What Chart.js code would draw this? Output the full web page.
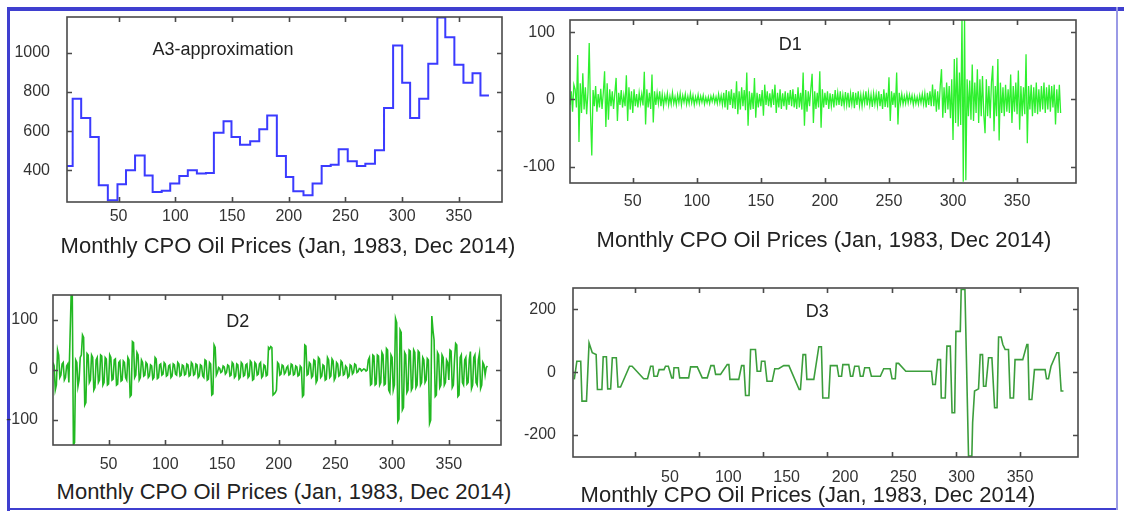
<!DOCTYPE html>
<html>
<head>
<meta charset="utf-8">
<script src="https://cdn.jsdelivr.net/npm/chart.js@4.4.0/dist/chart.umd.min.js"></script>
<style>
  body { margin: 0; background: #fff; width: 1124px; height: 513px; overflow: hidden; position: relative;
         font-family: "Liberation Sans", Arial, sans-serif; }
  .line { position: absolute; background: #3f3fcf; }
  canvas { position: absolute; }
  .xlabel { position: absolute; font-size: 22px; color: #222; white-space: nowrap; transform: translate(-50%, -50%); }
</style>
</head>
<body>
<div class="line" style="left:7px;top:7px;width:1117px;height:4px"></div>
<div class="line" style="left:7px;top:7px;width:3px;height:504px"></div>
<div class="line" style="left:7px;top:508px;width:1111px;height:2px"></div>
<div class="line" style="left:1116px;top:7px;width:2px;height:503px;background:#9a9ae6"></div>

<canvas id="a3"></canvas>
<canvas id="d1"></canvas>
<canvas id="d2"></canvas>
<canvas id="d3"></canvas>

<div class="xlabel" style="left:288px;top:246px">Monthly CPO Oil Prices (Jan, 1983, Dec 2014)</div>
<div class="xlabel" style="left:824px;top:240px">Monthly CPO Oil Prices (Jan, 1983, Dec 2014)</div>
<div class="xlabel" style="left:284px;top:492px">Monthly CPO Oil Prices (Jan, 1983, Dec 2014)</div>
<div class="xlabel" style="left:808px;top:495px">Monthly CPO Oil Prices (Jan, 1983, Dec 2014)</div>

<script>
// tick labels
const xTicks = [50, 100, 150, 200, 250, 300, 350];
const a3YTicks = [400, 600, 800, 1000];
const d12YTicks = [-100, 0, 100];
const d3YTicks = [-200, 0, 200];

// A3: step levels (month where each level starts, level value)
const a3Months = [4.5, 9.5, 17, 25, 32.5, 40.5, 49, 56.5, 64.5, 73, 80, 88, 95.5, 103.5, 111, 119,
  127, 134, 142.5, 149.5, 157, 166, 174, 181, 189.5, 197.5, 204, 213, 221, 229, 237, 244,
  252, 260, 267.5, 276, 284, 292, 300, 307, 315, 323, 331, 338, 346, 354, 362, 369, 376.5];
const a3Values = [422, 765, 667, 570, 323, 247, 329, 400, 476, 374, 289, 296, 332, 371, 400, 383,
  386, 592, 650, 570, 531, 548, 609, 680, 473, 366, 293, 272, 332, 422, 428, 507,
  446, 422, 434, 502, 718, 1037, 847, 667, 765, 944, 1180, 1080, 939, 847, 896, 782, 782];

// D1: monthly detail, Jan 1983 .. Dec 2014
const d1Values = [
  -8, 12, -18, 22, 15, -12, 66, -63, 24, -20, 39, -15,
  18, -22, 10, 84, -20, -83, 14, -10, 20, -18, 8, -12,
  16, -14, 10, 42, -41, 24, -30, 15, -10, 12, -14, 9,
  32, -32, 10, -8, 14, -12, 6, -10, 36, -32, 18, -15,
  12, -20, 15, -10, 8, -12, 10, -6, 8, -9, 41, -37,
  15, -12, 10, -14, 37, -34, 12, -8, 10, -6, 12, -10,
  8, -10, 6, -5, 9, -8, 5, -7, 10, -6, 4, -8,
  7, -5, 9, -8, 6, -4, 8, -7, 5, -6, 9, -5,
  6, -8, 4, -5, 7, -6, 5, -4, 6, -7, 3, -5,
  4, -6, 5, -3, 6, -5, 4, -6, 8, -5, 6, -8,
  10, -12, 14, -15, 12, -8, 15, -13, 10, -14, 27, -22,
  12, -15, 18, -10, 14, -16, 40, -39, 12, -15, 10, -14,
  32, -27, 10, -12, 8, -10, 14, -24, 22, -8, 12, -10,
  9, -12, 15, -8, 22, -20, 10, -12, 15, -14, 9, -10,
  12, -15, 10, -8, 14, -10, 15, -12, 8, -14, 18, -12,
  10, -15, 40, -39, 14, -18, 12, -10, 16, 38, -35, 12,
  -14, 10, -12, 42, -42, 15, -12, 10, -8, 12, -14, 9,
  -10, 8, -12, 14, -9, 10, -8, 12, -10, 7, -9, 11,
  -8, 10, -12, 9, -7, 11, -13, 10, -8, 12, -9, 7,
  -10, 8, -6, 12, -9, 10, -8, 7, -11, 9, -7, 8,
  -9, 12, -10, 8, -14, 15, -11, 10, -12, 33, -32, 12,
  -8, 10, -12, 40, -37, 10, -6, 8, -7, 5, -6, 8,
  -5, 7, -4, 6, -8, 5, -6, 4, -7, 6, -5, 8,
  -7, 9, -12, 10, -8, 12, -10, 22, -10, 15, -18, 12,
  -15, 20, 45, -27, 18, -20, 25, -15, 20, -28, 30, -60,
  60, -35, 62, -40, 40, -38, 122, -122, 120, -120, 30, -25,
  28, -30, 52, -32, 25, -20, 45, -35, 30, -25, 35, -22,
  -50, 30, -25, 20, -28, 25, 50, -47, 20, -25, 60, -61,
  25, -20, 18, -25, 22, -18, 15, -20, 37, -35, 20, -18,
  25, -22, 43, -45, 20, -25, 18, -22, 67, -65, 20, -15,
  22, -25, 18, -20, 25, -22, 15, -18, 20, -15, 25, -20,
  18, -15, 22, -18, 20, -12, 22, -37, 15, -20, 22, -20
];

// D2: monthly detail
const d2Values = [
  15, 8, -40, -30, 40, 30, -15, -10, 12, 15, -20, -15,
  8, 12, -25, 63, 150, 150, -150, -145, 20, 15, -33, -20,
  25, 30, 70, 65, -70, -65, 33, 30, -25, -20, 30, 25,
  -40, -35, 20, 25, -25, -20, 30, 28, -30, -25, 25, 22,
  -30, -28, 30, 25, -20, -18, 20, 22, -30, -28, 15, 18,
  -22, -20, 18, 15, -15, -20, 25, 20, -53, -50, 57, 55,
  -15, -10, 35, 30, -20, -15, 20, 15, -12, -10, 15, 12,
  -15, -12, 10, 8, -18, -15, 25, 22, -17, -15, 10, 12,
  -10, -8, 15, 12, -12, -10, 8, 10, -15, -12, 12, 10,
  -8, -10, 15, 12, -12, -10, 10, 8, -10, -8, 12, 10,
  -12, -10, 15, 12, -10, -8, 12, 10, -15, -12, 10, 8,
  -12, -15, 20, 18, -20, -18, 15, 12, -50, -48, 50, 45,
  -10, -5, 5, 3, -5, -3, 8, 6, -8, -5, 10, 8,
  -12, -10, 15, 12, -15, -12, 12, 10, -18, -15, 15, 12,
  -12, -10, 10, 12, -15, -12, 18, 15, -20, -18, 15, 12,
  -10, -8, 12, 15, -15, -12, 10, 8, -12, -10, 45, 42,
  47, 45, -50, -48, -45, -40, 15, 12, -10, -8, 10, 8,
  -8, -5, 5, 8, -10, -8, 12, 10, -10, -8, 8, 6,
  -12, -10, 8, 5, -53, -50, 50, 48, -10, -8, 15, 12,
  -15, -12, 20, 18, -25, -20, 25, 22, -15, -12, 10, 8,
  -20, -18, 25, 20, -15, -12, 22, 18, -20, -15, 15, 12,
  -12, -10, 18, 15, -10, -8, 8, 5, -15, -12, 10, 8,
  -8, -5, 12, 10, -5, -3, 3, 2, -2, 0, 2, 1,
  -2, 0, 20, 25, -30, -28, 30, 28, -30, -28, 30, 28,
  -30, -25, 35, 30, -30, -28, 43, 40, -40, -45, 30, 25,
  -40, -30, 103, 95, -103, -98, 80, 75, -80, -75, 35, 30,
  -45, -40, 40, 38, -40, -35, 40, 35, -35, -30, 38, 35,
  -30, -25, 25, 20, -25, -20, 23, 20, -107, -100, 108, 80,
  60, -53, -50, 35, 30, -35, -30, 30, 25, -30, -25, 20,
  15, -20, 40, 38, -35, -30, 20, 53, 50, -53, -50, 25,
  30, -25, -30, 20, 25, -28, -25, 20, 37, -37, -30, 25,
  30, -25, -30, 20, 33, -37, -30, 15, 10, -10, 5, 8
];

// D3: read as turning points (month, value)
const d3Months = [
  3, 5, 8, 9, 12.5, 14.5, 17, 20, 21, 24.5,
  25.5, 28, 29, 31.3, 32.6, 35.7, 37, 39, 46, 48,
  57, 60, 62.4, 64.2, 65, 67.6, 69, 72.8, 74, 76.2,
  78.8, 80, 80.6, 84, 85, 92, 93.5, 98.7, 102.6, 106.5,
  109.3, 111.7, 113, 116.8, 122, 123.3, 124.1, 131, 133.2, 135,
  136.3, 139, 140.2, 144, 145.3, 148, 148.7, 151.3, 153, 157,
  159, 162, 166, 170, 178, 179, 181, 183, 184, 189.4,
  193.3, 195.3, 196.4, 201, 202.3, 207.5, 208.8, 211, 212, 216.6,
  218, 219.7, 221.2, 224.4, 225.6, 227.7, 229, 232.6, 234.2, 241.2,
  243.8, 248.8, 250.3, 252.8, 253.6, 255.4, 261, 281, 282, 284,
  285.8, 288, 288.6, 291.7, 293, 295.6, 297, 299, 300, 303.4,
  304.1, 307, 309.8, 312.4, 313, 314.5, 317.6, 318.9, 320.7, 321.5,
  323.3, 325.4, 328, 330.1, 332, 333.2, 335.2, 336.5, 338.3, 340.9,
  342.2, 344.8, 346, 352, 355.2, 356, 357, 359.1, 361.1, 369.4,
  370.5, 372, 374, 378.5, 380, 381.9, 383.7
];
const d3Values = [
  -23, 35, 35, -92, -92, 93, 62, 56, -55, -55,
  49, 49, -53, -53, 46, 46, -47, -47, 19, 19,
  -21, -21, 19, 19, -13, -13, 8, 8, 19, 19,
  -18, -18, 14, 14, -18, -18, 17, 17, -18, -18,
  21, 21, -7, -7, 24, 24, -23, -23, 21, 21,
  -74, -74, 72, 72, 3, 3, 35, 35, -29, -29,
  11, 11, 21, 21, -55, -55, 56, 56, -23, -23,
  81, 81, -82, -82, 21, 21, -13, -13, 24, 24,
  -13, -13, 19, 19, -13, -13, 14, 14, -13, -13,
  11, 11, -21, -21, 28, 28, 3, 3, -39, -39,
  40, 40, -82, -82, 83, 83, -129, -129, 130, 130,
  263, 263, -267, -267, -161, -60, -53, 56, 56, -45,
  -45, 46, 46, -113, -113, 112, 112, 88, 72, 72,
  -82, -82, 40, 40, 88, 88, -87, -87, 8, 8,
  -21, -21, 19, 62, 62, -60, -60
];

const months = d1Values.map((_, i) => i + 1);
const pts = (xs, ys) => xs.map((x, i) => ({ x, y: ys[i] }));

// MATLAB-like box with inward ticks on all four sides, plus the in-axes title
const matlabBox = {
  id: 'matlabBox',
  afterDatasetsDraw(chart, args, opts) {
    const { ctx, chartArea: a, scales } = chart;
    const len = 5;
    ctx.save();
    ctx.strokeStyle = '#4a4a4a';
    ctx.lineWidth = 1.6;
    ctx.strokeRect(a.left, a.top, a.right - a.left, a.bottom - a.top);
    ctx.beginPath();
    scales.x.ticks.forEach(t => {
      const px = Math.round(scales.x.getPixelForValue(t.value)) + 0.5;
      ctx.moveTo(px, a.bottom); ctx.lineTo(px, a.bottom - len);
      ctx.moveTo(px, a.top); ctx.lineTo(px, a.top + len);
    });
    scales.y.ticks.forEach(t => {
      const py = Math.round(scales.y.getPixelForValue(t.value)) + 0.5;
      ctx.moveTo(a.left, py); ctx.lineTo(a.left + len, py);
      ctx.moveTo(a.right, py); ctx.lineTo(a.right - len, py);
    });
    ctx.stroke();
    if (opts.text) {
      ctx.font = '18px "Liberation Sans", Arial, sans-serif';
      ctx.fillStyle = '#222';
      ctx.textAlign = 'center';
      ctx.textBaseline = 'middle';
      ctx.fillText(opts.text, scales.x.getPixelForValue(opts.x), scales.y.getPixelForValue(opts.y));
    }
    ctx.restore();
  }
};

const tickFont = { family: '"Liberation Sans", Arial, sans-serif', size: 16 };
const plain = v => String(v);

function panel(id, box, pad, cfg) {
  const cv = document.getElementById(id);
  const w = box.r - box.l + pad.l + pad.r;
  const h = box.b - box.t + pad.t + pad.b;
  cv.width = w; cv.height = h;
  cv.style.left = (box.l - pad.l) + 'px';
  cv.style.top = (box.t - pad.t) + 'px';
  cv.style.width = w + 'px'; cv.style.height = h + 'px';

  const xFit = height => s => { s.height = height; s.paddingLeft = 0; s.paddingRight = 0; };
  const scales = {
    x: {
      type: 'linear', position: 'bottom', min: cfg.xMin, max: cfg.xMax,
      grid: { display: false }, border: { display: false },
      afterBuildTicks: s => { s.ticks = xTicks.map(v => ({ value: v })); },
      afterFit: xFit(cfg.x2 ? 0 : pad.b),
      ticks: { display: !cfg.x2, font: tickFont, color: '#333', padding: cfg.xPad, maxRotation: 0, callback: plain }
    },
    y: {
      type: 'linear', min: cfg.yMin, max: cfg.yMax,
      grid: { display: false }, border: { display: false },
      afterBuildTicks: s => { s.ticks = cfg.yTicks.map(v => ({ value: v })); },
      afterFit: s => { s.width = pad.l; s.paddingTop = 0; s.paddingBottom = 0; },
      ticks: { font: tickFont, color: '#333', padding: cfg.yPad, callback: plain }
    }
  };
  if (cfg.x2) {
    // tick labels of this panel sit apart from its tick marks
    scales.x2 = {
      type: 'linear', position: 'bottom', min: cfg.x2[0], max: cfg.x2[1],
      grid: { display: false }, border: { display: false },
      afterBuildTicks: s => { s.ticks = xTicks.map(v => ({ value: v })); },
      afterFit: xFit(pad.b),
      ticks: { font: tickFont, color: '#333', padding: cfg.xPad, maxRotation: 0, callback: plain }
    };
  }

  new Chart(cv, {
    type: 'line',
    data: {
      datasets: [{
        data: cfg.data,
        borderColor: cfg.color,
        borderWidth: cfg.lw,
        stepped: cfg.stepped || false,
        pointRadius: 0,
        tension: 0
      }]
    },
    options: {
      responsive: false,
      animation: false,
      layout: { padding: { top: pad.t, right: pad.r, left: 0, bottom: 0 } },
      plugins: {
        legend: { display: false },
        tooltip: { enabled: false },
        matlabBox: cfg.title
      },
      scales
    },
    plugins: [matlabBox]
  });
}

panel('a3', { l: 67, t: 17, r: 502, b: 202 }, { l: 60, t: 5, r: 6, b: 32 }, {
  data: pts(a3Months, a3Values), color: '#3b3bff', lw: 2, stepped: true,
  xMin: 4.5, xMax: 388, yMin: 238, yMax: 1183, yTicks: a3YTicks, xPad: -3, yPad: 9,
  title: { text: 'A3-approximation', x: 142, y: 1014 }
});

panel('d1', { l: 570, t: 20, r: 1076, b: 183 }, { l: 60, t: 5, r: 6, b: 32 }, {
  data: pts(months, d1Values), color: '#2ef02e', lw: 1.3,
  xMin: 1, xMax: 396, yMin: -124, yMax: 118, yTicks: d12YTicks, xPad: 1, yPad: 7,
  title: { text: 'D1', x: 173, y: 81 }
});

panel('d2', { l: 53, t: 295, r: 501, b: 445 }, { l: 50, t: 5, r: 6, b: 32 }, {
  data: pts(months, d2Values), color: '#22b822', lw: 1.6,
  xMin: 1, xMax: 396, yMin: -150, yMax: 150, yTicks: d12YTicks, xPad: 2, yPad: 7,
  title: { text: 'D2', x: 164, y: 96 }
});

panel('d3', { l: 573, t: 288, r: 1078, b: 457 }, { l: 60, t: 5, r: 6, b: 32 }, {
  data: pts(d3Months, d3Values), color: '#3c9e3c', lw: 1.6,
  xMin: 2, xMax: 395, yMin: -270, yMax: 268, yTicks: d3YTicks, xPad: 3, yPad: 9,
  x2: [-33.1, 399.7],
  title: { text: 'D3', x: 192, y: 192 }
});
</script>
</body>
</html>
